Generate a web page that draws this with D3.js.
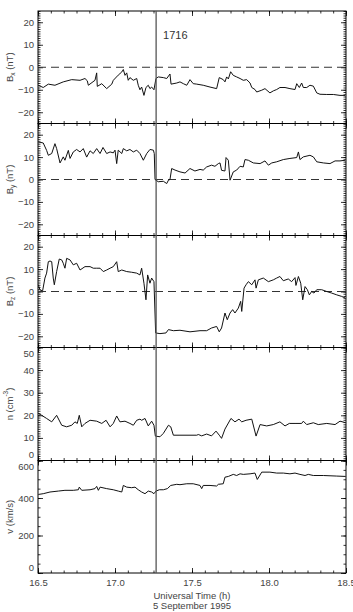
<!DOCTYPE html>
<html>
<head>
<meta charset="utf-8">
<script src="https://cdn.jsdelivr.net/npm/d3@7"></script>
<style>
  html, body { margin: 0; padding: 0; background: #fff; }
  svg { display: block; font-family: "Liberation Sans", Arial, Helvetica, sans-serif; }
</style>
</head>
<body>
<svg id="chart" width="353" height="612"></svg>
<script>
// Universal time (h) and values
const bxTime = [16.502,16.534,16.567,16.610,16.664,16.719,16.773,16.805,16.820,16.827,16.870,16.881,16.885,16.914,16.946,16.979,16.989,17.021,17.044,17.054,17.065,17.076,17.086,17.097,17.119,17.141,17.151,17.162,17.173,17.188,17.201,17.216,17.227,17.238,17.253,17.266,17.281,17.314,17.336,17.357,17.364,17.401,17.422,17.444,17.466,17.487,17.508,17.531,17.573,17.617,17.660,17.677,17.703,17.714,17.725,17.736,17.751,17.768,17.790,17.812,17.833,17.855,17.877,17.888,17.909,17.920,17.953,17.974,18.006,18.028,18.050,18.071,18.104,18.136,18.169,18.180,18.197,18.212,18.223,18.245,18.266,18.288,18.310,18.331,18.375,18.418,18.461,18.494];
const bxValue = [-8,-9,-7.5,-8,-6.5,-5.5,-5.8,-5,-6,-8,-5.8,-2.5,-8.5,-7.3,-9.5,-7.5,-5.8,-3.5,-2.1,-1,-3.6,-2.5,-5.8,-4.6,-5.8,-5,-8,-10,-8.8,-12.5,-9,-8,-9.5,-8.8,-10,-5,-4.3,-4.6,-5,-3,-7.5,-7,-6.5,-7.3,-8,-5.5,-7.3,-7.5,-8,-8.8,-9.5,-4.6,-5.5,-6.5,-4.3,-5.2,-2,-3.6,-4.3,-5,-5.8,-5.5,-7,-9,-9.9,-11,-10.2,-9.5,-11.4,-10.5,-9.9,-9,-9,-9.5,-9.9,-7.3,-9,-7,-9,-9,-8,-8.4,-11.4,-12,-12.1,-12.1,-12.5,-12.5];

const byTime = [16.502,16.534,16.556,16.567,16.589,16.610,16.621,16.643,16.664,16.675,16.697,16.708,16.729,16.751,16.773,16.794,16.816,16.838,16.859,16.881,16.903,16.922,16.946,16.968,16.989,17.000,17.011,17.021,17.044,17.054,17.076,17.097,17.119,17.141,17.162,17.184,17.206,17.227,17.249,17.255,17.260,17.281,17.314,17.336,17.347,17.357,17.368,17.390,17.422,17.455,17.487,17.519,17.552,17.573,17.595,17.627,17.649,17.671,17.682,17.692,17.714,17.721,17.736,17.747,17.768,17.790,17.812,17.833,17.844,17.866,17.898,17.942,17.974,17.996,18.018,18.050,18.093,18.136,18.180,18.191,18.201,18.223,18.266,18.288,18.310,18.353,18.396,18.429,18.461,18.494];
const byValue = [16.8,16.3,13,10.8,11.6,16,13.8,7.4,10.1,8.6,13,9.4,12.3,13.4,12.3,13.8,10,12.8,11.6,13.8,11.6,14.3,11.6,12.3,11.9,13.1,7.1,13.1,11.6,13.8,12.8,13.4,12.3,13.1,11.6,8.6,11.6,13.4,13.1,11.6,0,-1,-0.8,-1.8,-0.3,0,4.9,4.2,3.4,2.9,4.9,3.8,4.5,4.2,5.6,6.4,5.9,7.1,7.4,4.1,3.8,9.8,8.6,-0.3,3.4,4.2,5.9,5.6,8.9,8.6,7.4,7.1,8.3,6.4,7.4,7.9,8.9,9.4,9.8,12.3,8.9,10.1,10.8,10.1,7.9,7.4,7.1,8.3,8.3,8.6];

const bzTime = [16.502,16.513,16.530,16.545,16.556,16.567,16.578,16.589,16.599,16.606,16.621,16.638,16.654,16.664,16.675,16.686,16.708,16.729,16.751,16.773,16.805,16.838,16.859,16.881,16.903,16.924,16.946,16.968,16.989,17.011,17.021,17.044,17.076,17.108,17.141,17.162,17.173,17.188,17.201,17.212,17.227,17.238,17.253,17.264,17.292,17.331,17.347,17.379,17.422,17.487,17.552,17.595,17.627,17.660,17.677,17.692,17.714,17.729,17.747,17.764,17.779,17.801,17.816,17.823,17.838,17.851,17.866,17.888,17.909,17.916,17.931,17.963,17.996,18.028,18.050,18.071,18.093,18.125,18.147,18.169,18.175,18.191,18.206,18.219,18.234,18.249,18.262,18.277,18.292,18.310,18.342,18.375,18.407,18.440,18.472,18.494];
const bzValue = [3,0.7,0.3,6,8.2,13.3,13.6,13.3,6,3,8.9,14.5,14.1,12.6,10.4,14.8,14.1,11.9,12.6,9.6,11.1,11.1,10.4,10.4,10.4,8.9,9.6,10.4,11.1,13.3,8.9,9.6,8.9,8.6,8.2,7.4,10.4,3.7,-3.7,7.4,3.7,6,4.4,-18.5,-18.8,-18.5,-17,-17.5,-17.3,-18,-17.5,-17.5,-16.3,-15.6,-18,-16.3,-9.6,-12.6,-9.6,-8.1,-9.6,-7.4,-4.4,-8.9,1.5,3,4.4,3,5.2,1.5,5.2,6,4.4,5.2,6,6.7,4.8,5.6,4.4,6.2,2.7,6.7,3.7,-3.7,2.2,0.8,-1.5,0,-0.7,0.8,0.8,0,-0.7,-1.5,-2.2,-2.9];

const nTime = [16.502,16.524,16.556,16.589,16.621,16.654,16.686,16.719,16.740,16.755,16.768,16.784,16.805,16.838,16.881,16.914,16.942,16.968,16.989,17.011,17.032,17.065,17.097,17.119,17.141,17.162,17.173,17.195,17.216,17.238,17.253,17.262,17.292,17.314,17.347,17.362,17.379,17.422,17.531,17.541,17.563,17.595,17.627,17.656,17.677,17.692,17.714,17.753,17.779,17.805,17.823,17.851,17.888,17.916,17.942,17.985,18.028,18.071,18.104,18.132,18.169,18.212,18.223,18.245,18.288,18.320,18.375,18.429,18.461,18.494];
const nValue = [20.8,20,18.6,17.1,20,15.6,14.9,15.6,17.1,16.4,20,14.9,16.4,17.8,17.4,16.4,17.8,14.9,16.4,19.7,17.1,17.4,16.4,15.6,17.8,18.3,17.8,18.6,15.3,17.4,15.6,10.8,10.5,12,15.6,14.9,11.2,11.2,11.2,11.5,10.9,11.7,10.9,13,11.2,9.8,13.9,18.6,17.1,18.3,17.1,17.8,18.3,10.8,15.9,15.3,15.9,17.1,15.3,16.4,16.4,16.4,17.4,15.9,16.7,15.9,16.4,15.9,17.4,16.8];

const vTime = [16.502,16.534,16.578,16.632,16.675,16.729,16.762,16.768,16.784,16.838,16.870,16.881,16.892,16.903,16.946,16.989,17.021,17.044,17.054,17.076,17.108,17.130,17.151,17.173,17.195,17.216,17.238,17.253,17.266,17.288,17.314,17.340,17.362,17.401,17.422,17.466,17.508,17.552,17.563,17.573,17.617,17.660,17.671,17.703,17.714,17.736,17.768,17.790,17.812,17.833,17.877,17.909,17.924,17.953,18.006,18.050,18.093,18.136,18.169,18.201,18.234,18.255,18.288,18.353,18.440,18.498];
const vValue = [419,423,432,437,441,441,444,458,441,444,450,462,441,458,450,444,437,432,467,458,455,458,444,432,423,437,432,423,437,444,444,450,467,473,471,476,476,467,450,467,467,464,473,476,511,515,526,520,529,526,529,533,499,538,538,533,533,529,533,526,520,526,520,520,517,515];

const xTicks = [16.5, 17.0, 17.5, 18.0, 18.5];
const eventTime = 17.267; // 17:16 UT
const eventLabel = "1716";

const svg = d3.select("#chart");
const left = 38, right = 346;
const textColor = "#444";

const x = d3.scaleLinear().domain([16.5, 18.5]).range([left, right]);

const panels = [
  { time: bxTime, value: bxValue, top: 11, bottom: 123.5, domain: [-25, 25], labels: [-20, -10, 0, 10, 20], minor: 1, zero: true, title: ["B", "x", " (nT)"] },
  { time: byTime, value: byValue, top: 123.5, bottom: 235.5, domain: [-25, 25], labels: [-20, -10, 0, 10, 20], minor: 1, zero: true, title: ["B", "y", " (nT)"] },
  { time: bzTime, value: bzValue, top: 235.5, bottom: 347.5, domain: [-25, 25], labels: [-20, -10, 0, 10, 20], minor: 1, zero: true, title: ["B", "z", " (nT)"] },
  { time: nTime, value: nValue, top: 347.5, bottom: 460.5, domain: [0, 50], labels: [0, 10, 20, 30, 40, 50], minor: 1, zero: false, title: "n" },
  { time: vTime, value: vValue, top: 460.5, bottom: 573, domain: [0, 600], labels: [0, 200, 400, 600], minor: 50, zero: false, title: ["v (km/s)"] }
];

const minorX = d3.range(0, 25).map(k => 16.5 + k / 12);

panels.forEach((p, i) => {
  const y = d3.scaleLinear().domain(p.domain).range([p.bottom, p.top]);
  const g = svg.append("g");
  const minorY = d3.range(p.domain[0], p.domain[1] + 0.001, p.minor);

  // minor ticks, all pointing inward
  g.append("g").attr("transform", `translate(${left},0)`)
    .call(d3.axisLeft(y).tickValues(minorY).tickSizeInner(-2.5).tickSizeOuter(0).tickFormat(""));
  g.append("g").attr("transform", `translate(${right},0)`)
    .call(d3.axisRight(y).tickValues(minorY).tickSizeInner(-2.5).tickSizeOuter(0).tickFormat(""));
  g.append("g").attr("transform", `translate(0,${p.top})`)
    .call(d3.axisTop(x).tickValues(minorX).tickSizeInner(-2.5).tickSizeOuter(0).tickFormat(""));
  g.append("g").attr("transform", `translate(0,${p.bottom})`)
    .call(d3.axisBottom(x).tickValues(minorX).tickSizeInner(-2.5).tickSizeOuter(0).tickFormat(""));

  // major ticks + labels
  g.append("g").attr("class", "ylab").attr("transform", `translate(${left},0)`)
    .call(d3.axisLeft(y).tickValues(p.labels).tickSizeInner(-5).tickSizeOuter(0).tickPadding(4).tickFormat(d3.format("d")));
  g.append("g").attr("transform", `translate(${right},0)`)
    .call(d3.axisRight(y).tickValues(p.labels).tickSizeInner(-5).tickSizeOuter(0).tickFormat(""));
  g.append("g").attr("transform", `translate(0,${p.top})`)
    .call(d3.axisTop(x).tickValues(xTicks).tickSizeInner(-5).tickSizeOuter(0).tickFormat(""));
  g.append("g").attr("transform", `translate(0,${p.bottom})`)
    .call(d3.axisBottom(x).tickValues(xTicks).tickSizeInner(-5).tickSizeOuter(0).tickPadding(6)
      .tickFormat(i === panels.length - 1 ? d3.format(".1f") : ""));

  g.selectAll(".domain").remove();
  g.selectAll("line").attr("stroke", "#000").attr("stroke-width", 0.8);
  g.selectAll("text").attr("fill", textColor).attr("font-size", 9.5).attr("font-family", null);

  // end labels sit inside the panel
  g.selectAll(".ylab text").attr("dy", d => d === p.domain[1] ? "0.9em" : (d === p.domain[0] ? "-0.3em" : "0.32em"));

  // frame
  g.append("rect")
    .attr("x", left).attr("y", p.top)
    .attr("width", right - left).attr("height", p.bottom - p.top)
    .attr("fill", "none").attr("stroke", "#000").attr("stroke-width", 1);

  if (p.zero) {
    g.append("line")
      .attr("x1", left).attr("x2", right)
      .attr("y1", y(0)).attr("y2", y(0))
      .attr("stroke", "#333").attr("stroke-width", 1)
      .attr("stroke-dasharray", "8,5");
  }

  const line = d3.line().x(d => x(d[0])).y(d => y(d[1]));
  g.append("path")
    .datum(p.time.map((t, k) => [t, p.value[k]]))
    .attr("d", line)
    .attr("fill", "none")
    .attr("stroke", "#111")
    .attr("stroke-width", 1)
    .attr("stroke-linejoin", "round");

  // y axis title
  const cy = (p.top + p.bottom) / 2;
  const t = g.append("text")
    .attr("transform", `translate(10,${cy}) rotate(-90)`)
    .attr("text-anchor", "middle")
    .attr("dominant-baseline", "middle")
    .attr("fill", textColor)
    .attr("font-size", 9.5);
  if (p.title === "n") {
    t.append("tspan").text("n (cm");
    t.append("tspan").attr("font-size", 6.5).attr("dy", -4).text("-3");
    t.append("tspan").attr("dy", 4).text(")");
  } else if (p.title.length === 3) {
    t.append("tspan").text(p.title[0]);
    t.append("tspan").attr("font-size", 6.5).attr("dy", 3).text(p.title[1]);
    t.append("tspan").attr("dy", -3).text(p.title[2]);
  } else {
    t.text(p.title[0]);
  }
});

// event line
svg.append("line")
  .attr("x1", x(eventTime)).attr("x2", x(eventTime))
  .attr("y1", panels[0].top).attr("y2", panels[panels.length - 1].bottom)
  .attr("stroke", "#555").attr("stroke-width", 1.3);

svg.append("text")
  .attr("x", x(eventTime) + 7).attr("y", 39)
  .attr("fill", "#333").attr("font-size", 11)
  .text(eventLabel);

// x axis title
svg.append("text")
  .attr("x", x(17.5)).attr("y", 599)
  .attr("text-anchor", "middle").attr("fill", textColor).attr("font-size", 9.5)
  .text("Universal Time (h)");
svg.append("text")
  .attr("x", x(17.5)).attr("y", 609)
  .attr("text-anchor", "middle").attr("fill", textColor).attr("font-size", 9.5)
  .text("5 September 1995");
</script>
</body>
</html>
